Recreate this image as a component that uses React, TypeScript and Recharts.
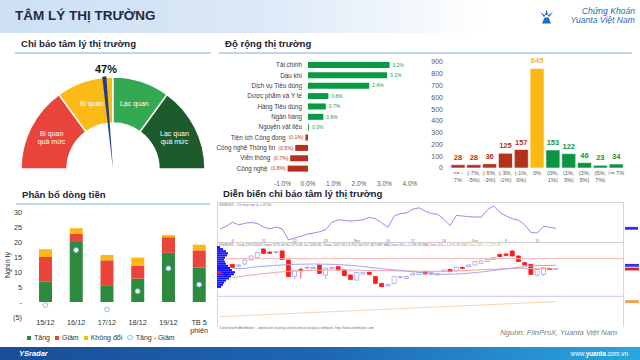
import React from "react";
import {
  PieChart, Pie, Cell, BarChart, Bar, XAxis, YAxis, LabelList,
  ComposedChart, Line, ReferenceLine,
} from "recharts";

const FONT = "'Liberation Sans', Arial, Helvetica, sans-serif";

// ---------- Gauge ----------
const gaugeZones = ["Bi quan quá mức", "Bi quan", "Lạc quan", "Lạc quan quá mức"];
const gaugeShares = [30, 20, 20, 30];
const gaugeColors = ["#E8443A", "#FBBA16", "#34A853", "#1D5A2C"];
const sentimentValue = 47;

// ---------- Sector breadth ----------
const sectors = [
  "Tài chính", "Dầu khí", "Dịch vụ Tiêu dùng", "Dược phẩm và Y tế", "Hàng Tiêu dùng",
  "Ngân hàng", "Nguyên vật liệu", "Tiện ích Công đồng", "Công nghệ Thông tin", "Viễn thông", "Công nghệ",
];
const sectorChange = [3.2, 3.1, 2.4, 0.8, 0.7, 0.6, 0.04, -0.1, -0.5, -0.7, -0.8];
const sectorTicks = [-1, 0, 1, 2, 3, 4];

// ---------- Price change histogram ----------
const bucketLabels = ["<= -7%", "(-7%, -5%)", "(-5%, -3%)", "(-3%, -1%)", "(-1%, 0%)", "0%", "(0%, 1%)", "(1%, 3%)", "(3%, 5%)", "(5%, 7%)", ">= 7%"];
const bucketCounts = [28, 28, 36, 125, 157, 845, 153, 122, 46, 23, 34];
const countTicks = [0, 100, 200, 300, 400, 500, 600, 700, 800, 900];

// ---------- Money flow ----------
const sessions = ["15/12", "16/12", "17/12", "18/12", "19/12", "TB 5 phiên"];
const flowUp = [6.9, 20.0, 5.6, 7.8, 16.4, 11.5];
const flowDown = [8.1, 2.7, 8.3, 4.2, 5.2, 5.7];
const flowFlat = [2.6, 1.9, 1.8, 2.8, 0.7, 1.9];
const flowNet = [-1.0, 17.3, -2.5, 3.6, 11.2, 5.8];
const flowTicks = [-5, 0, 5, 10, 15, 20, 25, 30];

// ---------- Sentiment history (AmiBroker style) ----------
const sentimentLine = [46, 50, 56, 52, 54.5, 55.5, 54, 49, 46, 49, 46, 30, 33, 35.5, 38.5, 40, 42, 45, 56, 59.5, 58.5, 57.5, 58.5, 59.5, 63, 61, 55, 48.5, 65, 68.5, 69.5, 75, 77, 72, 68.5, 67.5, 60, 51, 66, 65, 64, 63.5, 63.5, 74, 80, 70, 65, 61, 59, 52, 41, 40, 50, 48.5, 47];
const candleOpen = [1265, 1260, 1273.5, 1271, 1274, 1280, 1284, 1296.5, 1292, 1291, 1293.5, 1280, 1255, 1266, 1268, 1267, 1272.5, 1257.5, 1267.5, 1270, 1265, 1257.5, 1250, 1259, 1261.5, 1255, 1245, 1241, 1245, 1253.5, 1252.5, 1257.5, 1258.5, 1262.5, 1258, 1257.5, 1262.5, 1266, 1264, 1269, 1270, 1272.5, 1275, 1278, 1281, 1288.5, 1289, 1293.5, 1286, 1276, 1273.5, 1257.5, 1258.5, 1267.5, 1266];
const candleHigh = [1266, 1261, 1274.5, 1273.5, 1281, 1287, 1292, 1297.5, 1293, 1293.5, 1294.5, 1281, 1265, 1269, 1271.5, 1270, 1273.5, 1269, 1270, 1271, 1266, 1258.5, 1262, 1262, 1262.5, 1256, 1246, 1244.5, 1256, 1256, 1256, 1261, 1262, 1263.5, 1262, 1261, 1266, 1267, 1270, 1270, 1273.5, 1278.5, 1279.5, 1282, 1284.5, 1289.5, 1290, 1294.5, 1287, 1277, 1274.5, 1267.5, 1269.5, 1268.5, 1268];
const candleLow = [1261, 1256, 1268, 1270, 1273, 1279, 1283, 1289, 1289, 1289, 1280, 1254, 1251, 1252.5, 1266, 1266, 1259, 1251.5, 1266.5, 1264, 1255.5, 1250, 1249, 1258, 1257.5, 1244, 1239, 1240, 1244, 1252.5, 1251.5, 1256.5, 1257.5, 1258, 1257, 1256.5, 1261.5, 1261.5, 1263, 1266.5, 1269, 1271.5, 1274, 1277, 1280, 1284, 1286, 1285, 1276.5, 1271.5, 1257.5, 1255, 1256, 1265, 1265];
const candleClose = [1262, 1257, 1269, 1272.5, 1280, 1286, 1291, 1290, 1290, 1292.5, 1281, 1255, 1264, 1264, 1269, 1269, 1260, 1267.5, 1269, 1265, 1256.5, 1251, 1261, 1261, 1258.5, 1245, 1240, 1243.5, 1255, 1255, 1255, 1260, 1261, 1259, 1261, 1260, 1265, 1262.5, 1269, 1267.5, 1272.5, 1277.5, 1278.5, 1281, 1283.5, 1285, 1287, 1286, 1277.5, 1272.5, 1258.5, 1266, 1268.5, 1266, 1267];
const maBlue = [null, null, 1267.5, 1267, null, null, 1270, null, null, 1272, null, null, 1273.5, null, null, 1274, null, null, 1273.5, null, null, 1272, null, null, 1269, null, null, 1266, null, null, 1263.5, null, null, 1260.5, null, null, 1258.5, null, null, 1259.5, null, null, 1262, null, null, 1265.5, null, null, 1269, null, null, 1271.5, null, null, 1272];
const bandPink = [null, null, 1253.5, 1255, null, null, 1258.5, null, null, 1261.5, null, null, 1263.5, null, null, 1264.5, null, null, 1265, null, null, 1265, null, null, 1264.5, null, null, 1264, null, null, 1263.5, null, null, 1263, null, null, 1263, null, null, 1264, null, null, 1265.5, null, null, 1266.5, null, null, 1267.5, null, null, 1267, null, null, 1266.5];
const trendOrange: (number | null)[] = [1195, ...new Array(53).fill(null), 1217.5];
const resistanceLevel = 1282;
const supportLevel = 1225.5;
const dateTickIdx = [2, 7, 12, 17, 22, 27, 31, 36, 41, 46, 51];
const dateTickText = ["8", "15", "22", "29", "Nov", "10", "17", "24", "Dec", "8", "15"];
const profileLevels = ["1299", "1298", "1297", "1296", "1295", "1294", "1293", "1292", "1291", "1290", "1289", "1288", "1287", "1286", "1285", "1284", "1283", "1282", "1281", "1280"];
const profileVolume = [3, 6, 9, 11, 10, 8, 7, 8, 9, 11, 13, 15, 14, 17, 14, 12, 9, 7, 6, 4];
const profileMarker = [0, 0, 0, 0, 0, 0, 0, 0, 0, 0, 0, 0, 4, 0, 0, 0, 0, 0, 0, 0];

const RAD = Math.PI / 180;

const gaugeData = gaugeZones.map((z, i) => ({ zone: z, share: gaugeShares[i] }));
const needleData = [
  { v: sentimentValue - 0.7 },
  { v: 1.4 },
  { v: 100 - sentimentValue - 0.7 },
];
const sectorData = sectors.map((s, i) => ({ sector: s, change: sectorChange[i] }));
const histData = bucketLabels.map((b, i) => ({ bucket: b, count: bucketCounts[i] }));
const flowData = sessions.map((s, i) => ({ session: s, up: flowUp[i], down: flowDown[i], flat: flowFlat[i], net: flowNet[i] }));
const histColor = (i: number) => (i < 5 ? "#B3321C" : i === 5 ? "#FDB913" : "#0B9444");
const amiData = sentimentLine.map((v, i) => ({
  i, sent: v, open: candleOpen[i], high: candleHigh[i], low: candleLow[i], close: candleClose[i],
  ma: maBlue[i], band: bandPink[i], trend: trendOrange[i],
}));
const profileData = profileLevels.map((l, i) => ({ level: l, mark: profileMarker[i], vol: profileVolume[i] }));
const AMI_DOMAIN: [number, number] = [-0.5, 64.8];

const gaugeLabel = (p: any) => {
  const cx = Number(p.cx), cy = Number(p.cy);
  const r = (Number(p.innerRadius) + Number(p.outerRadius)) / 2;
  const x = cx + r * Math.cos(-p.midAngle * RAD);
  const y = cy + r * Math.sin(-p.midAngle * RAD);
  const name: string = gaugeZones[p.index];
  const parts = name.includes(" quá mức") ? [name.replace(" quá mức", ""), "quá mức"] : [name];
  return (
    <text x={x} y={y} textAnchor="middle" fill="#ffffff" fontSize={7} fontFamily={FONT}>
      {parts.map((t, i) => (
        <tspan key={i} x={x} dy={i === 0 ? (parts.length === 1 ? "0.35em" : "-0.2em") : "1.15em"}>{t}</tspan>
      ))}
    </text>
  );
};

const VALUE_FONT = 5;
const fmtSector = (val: number) => (val >= 0 ? `${val.toFixed(1)}%` : `(${Math.abs(val).toFixed(1)}%)`);
const approxWidth = (s: string, fs: number) => s.length * fs * 0.55;

const sectorNameLabel = (p: any) => {
  const x = Number(p.x), w = Number(p.width), y = Number(p.y), h = Number(p.height);
  const idx = p.index;
  const val = sectorChange[idx];
  let end: number;
  if (val >= 0) {
    end = Math.min(x, x + w) - 6;
  } else {
    const barEnd = Math.min(x, x + w);
    end = barEnd - 2 - approxWidth(fmtSector(val), VALUE_FONT) - 1.5;
  }
  return (
    <text x={end} y={y + h / 2} dy="0.35em" textAnchor="end" fontSize={6.3} fill="#3a3a3a" fontFamily={FONT}>
      {sectors[idx]}
    </text>
  );
};

const sectorValueLabel = (p: any) => {
  const x = Number(p.x), w = Number(p.width), y = Number(p.y), h = Number(p.height);
  const val = sectorChange[p.index];
  const txt = fmtSector(val);
  if (val >= 0) {
    return (
      <text x={Math.max(x, x + w) + 3} y={y + h / 2} dy="0.35em" textAnchor="start" fontSize={VALUE_FONT} fill="#1E9B48" fontFamily={FONT}>{txt}</text>
    );
  }
  return (
    <text x={Math.min(x, x + w) - 2} y={y + h / 2} dy="0.35em" textAnchor="end" fontSize={VALUE_FONT} fill="#B03A2E" fontFamily={FONT}>{txt}</text>
  );
};

const splitBucket = (s: string) => {
  if (s.includes(", ")) {
    const k = s.indexOf(", ");
    return [s.slice(0, k + 1), s.slice(k + 2)];
  }
  if (s.length > 5) return [s.slice(0, 4), s.slice(4)];
  return [s];
};

const HistTick = (p: any) => {
  const x = Number(p.x), y = Number(p.y);
  const lines = splitBucket(String(p.payload.value));
  return (
    <text x={x} y={y} textAnchor="middle" fontSize={5.6} fill="#595959" fontFamily={FONT}>
      {lines.map((t, i) => (
        <tspan key={i} x={x} dy={i === 0 ? 7 : 6.5}>{t}</tspan>
      ))}
    </text>
  );
};

const histValueLabel = (p: any) => {
  const x = Number(p.x), w = Number(p.width), y = Number(p.y);
  return (
    <text x={x + w / 2} y={y - 5} textAnchor="middle" fontSize={7.5} fontWeight={700} fill={histColor(p.index)} fontFamily={FONT}>
      {p.value}
    </text>
  );
};

const FlowTick = (p: any) => {
  const x = Number(p.x), y = Number(p.y);
  const s = String(p.payload.value);
  const lines = s.startsWith("TB") ? ["TB 5", "phiên"] : [s];
  return (
    <text x={x} y={y} textAnchor="middle" fontSize={7.3} fill="#333" fontFamily={FONT}>
      {lines.map((t, i) => (
        <tspan key={i} x={x} dy={8}>{t}</tspan>
      ))}
    </text>
  );
};

const flowTickFmt = (v: number) => (v < 0 ? `(${-v})` : v === 0 ? "-" : String(v));

const Candle = (p: any) => {
  const x = Number(p.x), w = Number(p.width);
  const y0 = Number(p.y), h0 = Number(p.height);
  const top = Math.min(y0, y0 + h0);
  const h = Math.abs(h0);
  const d = p.payload;
  const per = h / (d.high - d.low);
  const yOf = (v: number) => top + (d.high - v) * per;
  const up = d.close >= d.open;
  const bt = yOf(Math.max(d.open, d.close));
  const bb = yOf(Math.min(d.open, d.close));
  const cx = x + w / 2;
  const col = up ? "#9C9CF0" : "#FF1A1A";
  return (
    <g>
      <line x1={cx} x2={cx} y1={top} y2={top + h} stroke={col} strokeWidth={0.8} />
      <rect x={x} y={bt} width={w} height={Math.max(bb - bt, 0.8)} fill={up ? "#ffffff" : "#FF1A1A"} stroke={col} strokeWidth={0.7} />
    </g>
  );
};

const upperMarker = (p: any) => {
  const x = Number(p.x), y = Number(p.y);
  return <rect x={x} y={y - 1.4} width={13} height={2.8} fill="#2E2EF5" />;
};

const lowerMarkerColors = ["#2E2EF5", "#E02020", "#F0A050"];
const lowerMarker = (p: any) => {
  const x = Number(p.x), y = Number(p.y);
  return <rect x={x} y={y - 1.4} width={14} height={2.8} fill={lowerMarkerColors[p.index] || "#333"} />;
};

const lastOf = (arr: (number | null)[]) => {
  for (let k = arr.length - 1; k >= 0; k--) if (arr[k] != null) return arr[k] as number;
  return 0;
};

const SectionTitle = ({ left, top, width, text, underline = true }: any) => (
  <div style={{ position: "absolute", left, top, width, height: 14, borderBottom: underline ? "2px solid #BCD4EE" : "none" }}>
    <div style={{ position: "absolute", left: 6, top: 1, fontSize: 9.6, fontWeight: 700, color: "#1d2433", whiteSpace: "nowrap", lineHeight: 1 }}>{text}</div>
  </div>
);

const tiny: React.CSSProperties = { position: "absolute", fontSize: 3.4, color: "#707070", whiteSpace: "nowrap", lineHeight: 1 };

export default function App() {
  return (
    <div style={{ position: "absolute", left: 0, top: 0, width: 640, height: 360, overflow: "hidden", background: "#ffffff", fontFamily: FONT }}>
      {/* Header */}
      <div style={{ position: "absolute", left: 0, top: 0, width: 640, height: 33, background: "linear-gradient(90deg,#cde0f4 0%,#dbe8f7 40%,#ffffff 76%)" }} />
      <div style={{ position: "absolute", left: 15, top: 9, fontSize: 13.5, fontWeight: 700, color: "#1c2b4a", lineHeight: 1, whiteSpace: "nowrap" }}>TÂM LÝ THỊ TRƯỜNG</div>
      <svg style={{ position: "absolute", left: 539, top: 9 }} width={15} height={15} viewBox="0 0 15 15">
        <path d="M7.5 0.5 L9 6 L6 6 Z" fill="#1e6fc0" />
        <path d="M1 3 L6.3 6.5 L5 8 Z" fill="#1e6fc0" />
        <path d="M14 3 L8.7 6.5 L10 8 Z" fill="#1e6fc0" />
        <path d="M5.5 8.5 L9.5 8.5 L12 14.5 L3 14.5 Z" fill="#1e6fc0" />
      </svg>
      <div style={{ position: "absolute", left: 555, top: 7, width: 80, textAlign: "right", fontSize: 8.6, fontStyle: "italic", color: "#1f6cb5", lineHeight: "8.5px", whiteSpace: "nowrap" }}>
        Chứng Khoán<br />Yuanta Việt Nam
      </div>

      {/* Section titles */}
      <SectionTitle left={15} top={38} width={196} text="Chỉ báo tâm lý thị trường" />
      <SectionTitle left={219} top={38} width={413} text="Độ rộng thị trường" />
      <SectionTitle left={16} top={189} width={194} text="Phân bổ dòng tiền" />
      <SectionTitle left={217} top={188} width={300} text="Diễn biến chỉ báo tâm lý thị trường" underline={false} />

      {/* Gauge */}
      <div style={{ position: "absolute", left: 0, top: 60 }}>
        <PieChart width={220} height={120} margin={{ top: 0, right: 0, bottom: 0, left: 0 }}>
          <Pie data={gaugeData} dataKey="share" nameKey="zone" cx={113} cy={109} startAngle={180} endAngle={0}
            innerRadius={46} outerRadius={92} stroke="#ffffff" strokeWidth={1.5} label={gaugeLabel} labelLine={false} isAnimationActive={false}>
            {gaugeData.map((d, i) => <Cell key={i} fill={gaugeColors[i]} />)}
          </Pie>
          <Pie data={needleData} dataKey="v" cx={113} cy={109} startAngle={180} endAngle={0}
            innerRadius={0} outerRadius={93} stroke="none" isAnimationActive={false}>
            {needleData.map((d, i) => <Cell key={i} fill={i === 1 ? "#1F3C8C" : "transparent"} fillOpacity={i === 1 ? 1 : 0} />)}
          </Pie>
        </PieChart>
      </div>
      <div style={{ position: "absolute", left: 86, top: 64, width: 40, textAlign: "center", fontSize: 11, fontWeight: 700, color: "#111", lineHeight: 1 }}>{sentimentValue}%</div>

      {/* Sector breadth */}
      <div style={{ position: "absolute", left: 210, top: 58 }}>
        <BarChart layout="vertical" width={215} height={130} data={sectorData} margin={{ top: 2, right: 15, left: 72.5, bottom: 0 }}>
          <XAxis type="number" domain={[-1, 4]} ticks={sectorTicks} interval={0} tickFormatter={(v: number) => `${v.toFixed(1)}%`}
            axisLine={false} tickLine={false} tick={{ fontSize: 6.5, fill: "#595959" }} height={14} tickMargin={1} />
          <YAxis type="category" dataKey="sector" hide />
          <Bar dataKey="change" barSize={6} isAnimationActive={false}>
            {sectorData.map((d, i) => <Cell key={i} fill={d.change >= 0 ? "#0A9A43" : "#B5311E"} />)}
            <LabelList dataKey="sector" content={sectorNameLabel} />
            <LabelList dataKey="change" content={sectorValueLabel} />
          </Bar>
        </BarChart>
      </div>

      {/* Histogram */}
      <div style={{ position: "absolute", left: 430, top: 55 }}>
        <BarChart width={210} height={135} data={histData} margin={{ top: 7, right: 16, left: 0, bottom: 0 }}>
          <XAxis dataKey="bucket" interval={0} axisLine={false} tickLine={false} tickSize={0} tickMargin={0} height={22} tick={<HistTick />} />
          <YAxis domain={[0, 900]} ticks={countTicks} interval={0} width={20} axisLine={false} tickLine={false} tickMargin={1}
            tick={{ fontSize: 7, fill: "#595959" }} />
          <Bar dataKey="count" barSize={14} stroke="#ffffff" strokeWidth={0.6} isAnimationActive={false}>
            {histData.map((d, i) => <Cell key={i} fill={histColor(i)} />)}
            <LabelList dataKey="count" content={histValueLabel} />
          </Bar>
        </BarChart>
      </div>

      {/* Money flow */}
      <div style={{ position: "absolute", left: 0, top: 200 }}>
        <ComposedChart width={215} height={150} data={flowData} margin={{ top: 12, right: 0.5, left: 0, bottom: 0 }}>
          <XAxis dataKey="session" interval={0} axisLine={false} tickLine={false} tickSize={0} tickMargin={0} height={33} tick={<FlowTick />} />
          <YAxis domain={[-5, 30]} ticks={flowTicks} interval={0} width={30} axisLine={false} tickLine={false} tickSize={0} tickMargin={8}
            tickFormatter={flowTickFmt} tick={{ fontSize: 7.3, fill: "#333" }} />
          <Bar dataKey="up" stackId="s" fill="#2E8A3E" barSize={13} isAnimationActive={false} />
          <Bar dataKey="down" stackId="s" fill="#E9453A" barSize={13} isAnimationActive={false} />
          <Bar dataKey="flat" stackId="s" fill="#FDB813" barSize={13} isAnimationActive={false} />
          <Line dataKey="net" stroke="none" isAnimationActive={false} activeDot={false}
            dot={{ r: 2.4, fill: "#ffffff", stroke: "#8DBDE6", strokeWidth: 1 }} />
        </ComposedChart>
      </div>
      <div style={{ position: "absolute", left: 1, top: 250, width: 12, height: 30 }}>
        <div style={{ position: "absolute", left: 6, top: 15, transform: "translate(-50%,-50%) rotate(-90deg)", fontSize: 7, color: "#333", whiteSpace: "nowrap", lineHeight: 1 }}>Nghìn tỷ</div>
      </div>
      <div style={{ position: "absolute", left: 27, top: 334, display: "flex", alignItems: "center", fontSize: 7, color: "#333", lineHeight: 1, whiteSpace: "nowrap" }}>
        {[["Tăng", "#2E8A3E"], ["Giảm", "#E9453A"], ["Không đổi", "#FDB813"]].map(([t, c]) => (
          <div key={t} style={{ display: "flex", alignItems: "center", marginRight: 5 }}>
            <div style={{ width: 4, height: 4, background: c, marginRight: 3 }} />{t}
          </div>
        ))}
        <div style={{ display: "flex", alignItems: "center" }}>
          <div style={{ width: 3.5, height: 3.5, borderRadius: 3, border: "0.8px solid #8DBDE6", marginRight: 3 }} />Tăng - Giảm
        </div>
      </div>

      {/* AmiBroker-style sentiment history */}
      <div style={{ position: "absolute", left: 217, top: 202, width: 405, height: 124, borderLeft: "1px solid #d6d6d6", borderTop: "1px solid #d6d6d6", borderRight: "1px solid #d6d6d6" }} />
      <div style={{ position: "absolute", left: 217, top: 242, width: 406, height: 1, background: "#cfcfcf" }} />
      <div style={{ position: "absolute", left: 216, top: 201 }}>
        <ComposedChart width={424} height={41} data={amiData} margin={{ top: 1, right: 0, left: 1, bottom: 0 }}>
          <XAxis type="number" dataKey="i" domain={AMI_DOMAIN} ticks={dateTickIdx} interval={0} mirror axisLine={false} tickLine={false} tickSize={0} tickMargin={0}
            tickFormatter={(v: number) => dateTickText[dateTickIdx.indexOf(v)] || ""} tick={{ fontSize: 3.6, fill: "#777" }} allowDataOverflow />
          <YAxis orientation="right" domain={[27, 85.5]} ticks={[lastOf(sentimentLine)]} width={17} axisLine={false} tickLine={false}
            tickSize={0} tickMargin={2} tick={upperMarker} allowDataOverflow />
          <Line dataKey="sent" type="linear" stroke="#8F8FF2" strokeWidth={1} dot={false} isAnimationActive={false} />
        </ComposedChart>
      </div>
      <div style={{ position: "absolute", left: 216, top: 242 }}>
        <ComposedChart width={424} height={84} data={amiData} margin={{ top: 1, right: 0, left: 1, bottom: 1 }}>
          <XAxis type="number" dataKey="i" domain={AMI_DOMAIN} hide allowDataOverflow />
          <YAxis orientation="right" domain={[1182.5, 1305.5]} ticks={[lastOf(maBlue), lastOf(bandPink), lastOf(trendOrange)]} interval={0} width={17}
            axisLine={false} tickLine={false} tickSize={0} tickMargin={2} tick={lowerMarker} allowDataOverflow />
          <ReferenceLine y={resistanceLevel} stroke="#F7B3B3" strokeWidth={1} />
          <ReferenceLine y={supportLevel} stroke="#C9C9F4" strokeWidth={1} />
          <Line dataKey="trend" type="linear" stroke="#FBD2AC" strokeWidth={1} dot={false} connectNulls isAnimationActive={false} />
          <Line dataKey="band" type="monotone" stroke="#F4A3A3" strokeWidth={1} dot={false} connectNulls isAnimationActive={false} />
          <Line dataKey="ma" type="monotone" stroke="#A5A5F0" strokeWidth={1} dot={false} connectNulls isAnimationActive={false} />
          <Bar dataKey={(d: any) => [d.low, d.high]} barSize={4} shape={<Candle />} isAnimationActive={false} />
        </ComposedChart>
      </div>
      <div style={{ position: "absolute", left: 217, top: 246 }}>
        <BarChart layout="vertical" width={22} height={42} data={profileData} margin={{ top: 0, right: 0, left: 0, bottom: 0 }} barCategoryGap={0}>
          <XAxis type="number" domain={[0, 22]} hide />
          <YAxis type="category" dataKey="level" hide />
          <Bar dataKey="mark" stackId="p" fill="#FF1A1A" isAnimationActive={false} />
          <Bar dataKey="vol" stackId="p" fill="#1414FF" isAnimationActive={false} />
        </BarChart>
      </div>
      <div style={{ ...tiny, left: 219, top: 203.5 }}>VNINDEX - <span style={{ color: "#6b6bf0" }}>Chi bao tam ly</span> = 47.00</div>
      <div style={{ ...tiny, left: 219, top: 243.5 }}>VNINDEX - Daily 19/12/2025 Open 1270.64 Hi 1275.68, Lo 1263.06, Close 1267.03 (-0.2%) Vol 557,307,889 <span style={{ color: "#6b6bf0" }}>MA(Close,20) = 1,268.36</span> <span style={{ color: "#e06060" }}>MA(Close,50) = 1,270.20</span> <span style={{ color: "#f0a050" }}>MA(Close,200) = 1,227.28</span></div>
      <div style={{ ...tiny, left: 219, top: 327 }}>Created with AmiBroker - advanced charting and technical analysis software. http://www.amibroker.com</div>

      {/* Source */}
      <div style={{ position: "absolute", left: 420, top: 329, width: 197, textAlign: "right", fontSize: 7.6, fontStyle: "italic", color: "#7a7a7a", lineHeight: 1, whiteSpace: "nowrap" }}>Nguồn: FiinProX, Yuanta Việt Nam</div>

      {/* Footer */}
      <div style={{ position: "absolute", left: 0, top: 347, width: 640, height: 13, background: "linear-gradient(90deg,#1a4d96 0%,#1e66b2 50%,#2ba6df 100%)" }} />
      <div style={{ position: "absolute", left: 19, top: 349.5, fontSize: 7.5, fontStyle: "italic", fontWeight: 700, color: "#ffffff", lineHeight: 1 }}>YSradar</div>
      <div style={{ position: "absolute", left: 560, top: 350.5, width: 68, textAlign: "right", fontSize: 6.3, color: "#ffffff", lineHeight: 1, whiteSpace: "nowrap" }}>www.<b>yuanta</b>.com.vn</div>
    </div>
  );
}
